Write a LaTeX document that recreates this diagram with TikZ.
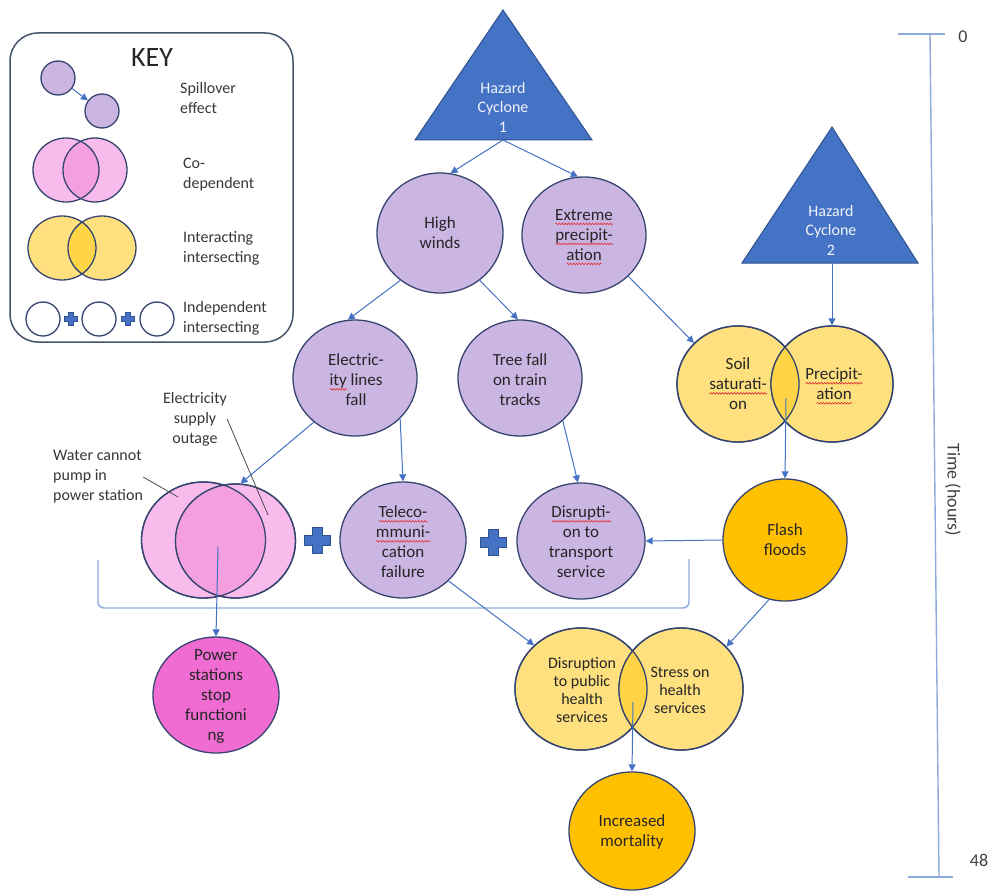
\documentclass[tikz,border=0pt]{standalone}
\usepackage{fontspec}
\setmainfont{Carlito}
\usetikzlibrary{shapes.geometric,arrows.meta,decorations.pathmorphing}
\definecolor{purp}{HTML}{CBB5E2}
\definecolor{edge}{HTML}{35456F}
\definecolor{yel}{HTML}{FFE07E}
\definecolor{yeld}{HTML}{FFD447}
\definecolor{gold}{HTML}{FFC000}
\definecolor{pinkl}{HTML}{F8BBEC}
\definecolor{pinkd}{HTML}{F4A0E0}
\definecolor{mag}{HTML}{F06CD2}
\definecolor{arr}{HTML}{4472C4}
\definecolor{triedge}{HTML}{2F528F}
\definecolor{axisc}{HTML}{8FAADC}
\definecolor{txt}{HTML}{262626}
\definecolor{keyedge}{HTML}{44546A}
\definecolor{squig}{HTML}{E03030}
\newcommand\redw[1]{\setbox0\hbox{#1}\leavevmode\rlap{\raisebox{-3.5pt}[0pt][0pt]{\tikz[x=1pt,y=1pt,baseline=0pt]\draw[squig,line width=0.6pt,decorate,decoration={snake,amplitude=0.8pt,segment length=3pt}] (0,0) -- (\the\wd0,0);}}\box0\relax}
\tikzset{
  blob/.style n args={3}{ellipse, draw=edge, line width=1.3pt, inner sep=0pt, fill=#1, minimum width=#2pt, minimum height=#3pt},
  outl/.style={draw=edge, line width=1.3pt},
  lbl/.style={align=center, text=txt, font=\fontsize{17}{20}\selectfont, inner sep=0pt},
  tritext/.style={align=center, text=white!92!arr, font=\fontsize{16}{19.5}\selectfont, inner sep=0pt},
  keytxt/.style={align=left, anchor=west, text=black!78, font=\fontsize{16}{20}\selectfont, inner sep=0pt},
  conn/.style={draw=arr, line width=1pt, -{Triangle[length=7pt,width=7pt]}},
  leader/.style={draw=black!70, line width=0.8pt},
  axisline/.style={draw=axisc, line width=1.4pt},
  pics/bplus/.style={code={\filldraw[fill=arr, draw=triedge, line width=0.6pt] (-5,-13)--(5,-13)--(5,-5)--(13,-5)--(13,5)--(5,5)--(5,13)--(-5,13)--(-5,5)--(-13,5)--(-13,-5)--(-5,-5)--cycle;}}
}
\begin{document}
\begin{tikzpicture}[x=1pt,y=-1pt]
\useasboundingbox (0,0) rectangle (992,893);
\fill[white] (0,0) rectangle (992,893);

% ---------- KEY ----------
\draw[draw=keyedge, line width=1.5pt, rounded corners=28pt] (10,33) rectangle (293,342);
\node[font=\fontsize{28}{30}\selectfont, text=black!85] (keyt) at (152,58) {KEY};
\node[blob={purp}{34}{34}] (k1) at (58,78) {};
\node[blob={purp}{34}{34}] (k2) at (102,111) {};
\draw[conn] (k1) -- (k2);
\node[keytxt] (ks) at (180,98) {Spillover\\effect};
% co-dependent
\fill[pinkl] (66,170) ellipse [x radius=33, y radius=32];
\fill[pinkl] (95,170) ellipse [x radius=32, y radius=32];
\begin{scope}\clip (66,170) ellipse [x radius=33, y radius=32]; \fill[pinkd] (95,170) ellipse [x radius=32, y radius=32];\end{scope}
\draw[outl] (66,170) ellipse [x radius=33, y radius=32];
\draw[outl] (95,170) ellipse [x radius=32, y radius=32];
\node[keytxt] (kc) at (183,175) {Co-\\dependent};
% interacting
\fill[yel] (62,248) ellipse [x radius=34, y radius=32];
\fill[yel] (102,248) ellipse [x radius=34, y radius=32];
\begin{scope}\clip (62,248) ellipse [x radius=34, y radius=32]; \fill[yeld] (102,248) ellipse [x radius=34, y radius=32];\end{scope}
\draw[outl] (62,248) ellipse [x radius=34, y radius=32];
\draw[outl] (102,248) ellipse [x radius=34, y radius=32];
\node[keytxt] (ki) at (183,248) {Interacting\\intersecting};
% independent
\draw[outl, fill=white] (43,319) circle [radius=17];
\draw[outl, fill=white] (99,319) circle [radius=17];
\draw[outl, fill=white] (157,319) circle [radius=17];
\pic[scale=0.5] at (71,319) {bplus};
\pic[scale=0.5] at (128,319) {bplus};
\node[keytxt] (kn) at (183,318) {Independent\\intersecting};

% ---------- TRIANGLES ----------
\filldraw[fill=arr, draw=triedge, line width=1pt] (503,10) -- (592,140) -- (415,140) -- cycle;
\coordinate (t1b) at (503,140);
\node[tritext] (t1) at (503,107) {Hazard\\Cyclone\\1};
\filldraw[fill=arr, draw=triedge, line width=1pt] (832,127) -- (918,263) -- (742,263) -- cycle;
\coordinate (t2b) at (832,263);
\node[tritext] (t2) at (831,230) {Hazard\\Cyclone\\2};

% ---------- PURPLE ----------
\node[blob={purp}{126}{120}] (hw) at (440,233) {};
\node[lbl] (hwt) at (440,233) {High\\winds};
\node[blob={purp}{124}{116}] (ep) at (584,235) {};
\node[lbl] (ept) at (584,235) {\redw{Extreme}\\\redw{precipit-}\\\redw{ation}};
\node[blob={purp}{124}{116}] (elf) at (355,378) {};
\node[lbl] (elft) at (356,380) {Electric-\\\redw{ity} lines\\fall};
\node[blob={purp}{124}{116}] (tf) at (520,378) {};
\node[lbl] (tft) at (520,380) {Tree fall\\on train\\tracks};
\node[blob={purp}{126}{116}] (tc) at (403,540) {};
\node[lbl] (tct) at (403,542) {\redw{Teleco-}\\\redw{mmuni-}\\cation\\failure};
\node[blob={purp}{128}{116}] (dt) at (581,541) {};
\node[lbl] (dtt) at (581,542) {\redw{Disrupti-}\\on to\\transport\\service};

% ---------- SOIL / PRECIP ----------
\node[blob={yel}{122}{116}] (ss) at (738,384) {};
\node[blob={yel}{122}{116}] (pr) at (832,384) {};
\begin{scope}\clip (738,384) ellipse [x radius=61, y radius=58]; \fill[yeld] (832,384) ellipse [x radius=61, y radius=58];\end{scope}
\draw[outl] (738,384) ellipse [x radius=61, y radius=58];
\draw[outl] (832,384) ellipse [x radius=61, y radius=58];
\node[lbl] (sst) at (738,384) {Soil\\\redw{saturati-}\\on};
\node[lbl] (prt) at (834,384) {\redw{Precipit-}\\\redw{ation}};
\coordinate (spi) at (786,398);

\node[blob={gold}{124}{122}] (ff) at (785,540) {};
\node[lbl] (fft) at (785,540) {Flash\\floods};

% ---------- PINK ----------
\node[blob={pinkl}{124}{116}] (wp) at (203.5,540) {};
\node[blob={pinkl}{120}{114}] (es) at (235.5,541) {};
\begin{scope}\clip (203.5,540) ellipse [x radius=62, y radius=58]; \fill[pinkd] (235.5,541) ellipse [x radius=60, y radius=57];\end{scope}
\draw[outl] (203.5,540) ellipse [x radius=62, y radius=58];
\draw[outl] (235.5,541) ellipse [x radius=60, y radius=57];
\coordinate (pwi) at (218,547);
\node[keytxt] (wl) at (53,477) {Water cannot\\pump in\\power station};
\coordinate (wle) at (178,497);
\draw[leader] (wl.east) -- (wle);
\node[align=center, text=black!78, font=\fontsize{16}{20}\selectfont, inner sep=0pt] (el) at (195,419) {Electricity\\supply\\outage};
\coordinate (ele) at (268,515);
\draw[leader] (el.east) -- (ele);

\node[blob={mag}{126}{116}] (ps) at (216,695) {};
\node[lbl] (pst) at (216,696) {Power\\stations\\stop\\functioni\\ng};

% ---------- HEALTH ----------
\node[blob={yel}{132}{122}] (dph) at (581,689) {};
\node[blob={yel}{124}{122}] (st) at (681,689) {};
\begin{scope}\clip (581,689) ellipse [x radius=66, y radius=61]; \fill[yeld] (681,689) ellipse [x radius=62, y radius=61];\end{scope}
\draw[outl] (581,689) ellipse [x radius=66, y radius=61];
\draw[outl] (681,689) ellipse [x radius=62, y radius=61];
\node[lbl, font=\fontsize{16}{18}\selectfont] (dpht) at (582,690) {Disruption\\to public\\health\\services};
\node[lbl, font=\fontsize{16}{18}\selectfont] (stt) at (680,690) {Stress on\\health\\services};
\coordinate (hli) at (633,702);

\node[blob={gold}{126}{118}] (im) at (632,831) {};
\node[lbl] (imt) at (632,832) {Increased\\mortality};

% ---------- PLUS SIGNS & BRACKET ----------
\pic at (317,540) {bplus};
\pic at (493,542) {bplus};
\draw[axisline, rounded corners=6pt] (98,560) -- (98,608) -- (689,608) -- (689,559);

% ---------- CONNECTORS ----------
\draw[conn] (t1b) -- (hw.80);
\draw[conn] (t1b) -- (ep.96);
\draw[conn] (hw.230) -- (elf.97);
\draw[conn] (hw.-50) -- (tf.92);
\draw[conn] (ep.-43) -- (ss.137);
\draw[conn] (t2b) -- (pr.90);
\draw[conn] (elf.227) -- (es.85);
\draw[conn] (elf.-42) -- (tc.90);
\draw[conn] (tf.-45) -- (dt.93);
\draw[conn] (spi) -- (ff.90);
\draw[conn] (ff.180) -- (dt.0);
\draw[conn] (ff.255) -- (st.43);
\draw[conn] (tc.-42) -- (dph.137);
\draw[conn] (pwi) -- (ps.90);
\draw[conn] (hli) -- (im.90);

% ---------- TIME AXIS ----------
\draw[axisline] (898,34) -- (945,34);
\draw[axisline] (930,34) -- (939,877);
\draw[axisline] (908,877) -- (953,877);
\node[font=\fontsize{18}{20}\selectfont, text=black!75] (t0) at (963,37) {0};
\node[font=\fontsize{18}{20}\selectfont, text=black!75] (t48) at (979,860) {48};
\node[font=\fontsize{18}{20}\selectfont, text=black!75, rotate=-90] (tl) at (953,490) {Time (hours)};
\end{tikzpicture}
\end{document}
